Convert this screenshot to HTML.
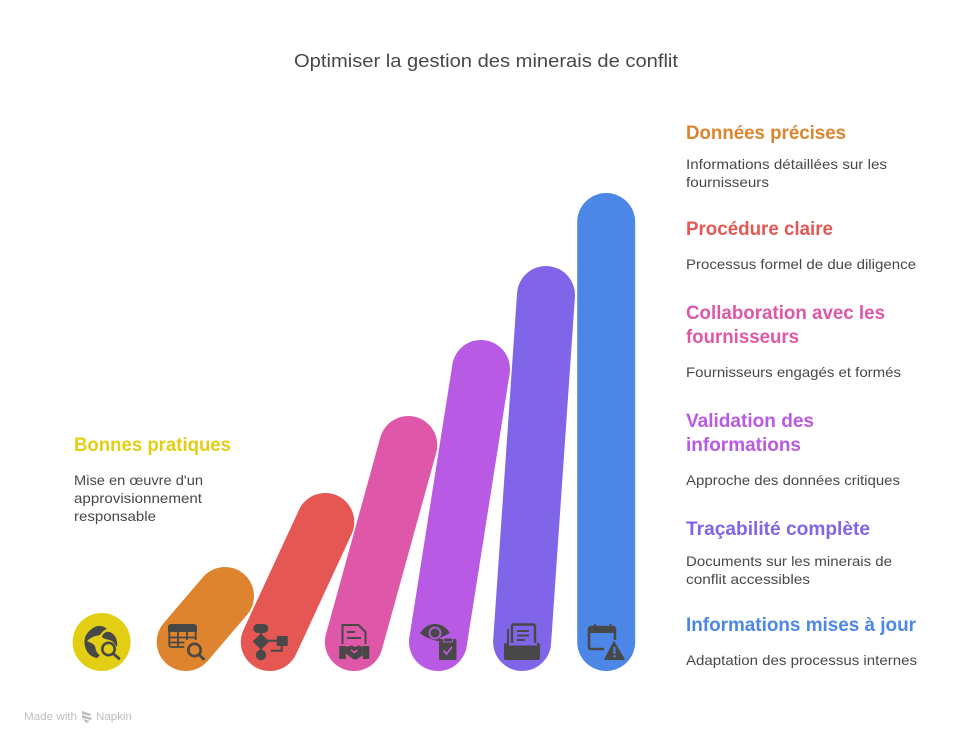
<!DOCTYPE html>
<html lang="fr">
<head>
<meta charset="utf-8">
<title>Optimiser la gestion des minerais de conflit</title>
<style>
html,body{margin:0;padding:0;background:#fff;width:972px;height:744px;overflow:hidden}
svg{display:block}
text{font-family:"Liberation Sans",sans-serif;fill:#484848}
.h{font-size:19px;font-weight:700}
.b{font-size:14px}
</style>
</head>
<body>
<svg id="chart" width="972" height="744" viewBox="0 0 972 744" xmlns="http://www.w3.org/2000/svg">
<text x="294" y="67" font-size="18.5" textLength="384" lengthAdjust="spacingAndGlyphs">Optimiser la gestion des minerais de conflit</text>
<g id="bars"></g>
<g>
<text class="h" x="74" y="451" textLength="157" lengthAdjust="spacingAndGlyphs" style="fill:#E2CF14">Bonnes pratiques</text>
<text class="b" x="74" y="485" textLength="129" lengthAdjust="spacingAndGlyphs">Mise en œuvre d'un</text>
<text class="b" x="74" y="503" textLength="128" lengthAdjust="spacingAndGlyphs">approvisionnement</text>
<text class="b" x="74" y="521" textLength="82" lengthAdjust="spacingAndGlyphs">responsable</text>

<text class="h" x="686" y="139" textLength="160" lengthAdjust="spacingAndGlyphs" style="fill:#DE832E">Données précises</text>
<text class="b" x="686" y="169" textLength="201" lengthAdjust="spacingAndGlyphs">Informations détaillées sur les</text>
<text class="b" x="686" y="187" textLength="83" lengthAdjust="spacingAndGlyphs">fournisseurs</text>

<text class="h" x="686" y="235" textLength="147" lengthAdjust="spacingAndGlyphs" style="fill:#E55753">Procédure claire</text>
<text class="b" x="686" y="269" textLength="230" lengthAdjust="spacingAndGlyphs">Processus formel de due diligence</text>

<text class="h" x="686" y="319" textLength="199" lengthAdjust="spacingAndGlyphs" style="fill:#DE57A9">Collaboration avec les</text>
<text class="h" x="686" y="343" textLength="113" lengthAdjust="spacingAndGlyphs" style="fill:#DE57A9">fournisseurs</text>
<text class="b" x="686" y="377" textLength="215" lengthAdjust="spacingAndGlyphs">Fournisseurs engagés et formés</text>

<text class="h" x="686" y="427" textLength="128" lengthAdjust="spacingAndGlyphs" style="fill:#B95AE4">Validation des</text>
<text class="h" x="686" y="451" textLength="115" lengthAdjust="spacingAndGlyphs" style="fill:#B95AE4">informations</text>
<text class="b" x="686" y="485" textLength="214" lengthAdjust="spacingAndGlyphs">Approche des données critiques</text>

<text class="h" x="686" y="535" textLength="184" lengthAdjust="spacingAndGlyphs" style="fill:#8065E9">Traçabilité complète</text>
<text class="b" x="686" y="566" textLength="206" lengthAdjust="spacingAndGlyphs">Documents sur les minerais de</text>
<text class="b" x="686" y="584" textLength="124" lengthAdjust="spacingAndGlyphs">conflit accessibles</text>

<text class="h" x="686" y="631" textLength="230" lengthAdjust="spacingAndGlyphs" style="fill:#4C87E8">Informations mises à jour</text>
<text class="b" x="686" y="665" textLength="231" lengthAdjust="spacingAndGlyphs">Adaptation des processus internes</text>
</g>

<g fill="#484848" stroke="none">
<g>
<path d="M107 629C103 625 97 625 93 628C87 632 84 637 84.500 643C85 651 90 657 97 658L100 655.500C97 653 96 651 95.500 648C95 644 91 643 87 641C90 638 94 636 100 635C102 632 104 630 107 629Z"/>
<path d="M106 632C110 631 114 634 116 638C117 641 117.500 644 117 647L113 642C110 639 105 640 102 637C102 635 104 633 106 632Z"/>
<circle cx="108.500" cy="649" r="6.200" fill="#E2CF14" stroke="#484848" stroke-width="2.600"/>
<path d="M113 653.500l6 5" stroke="#484848" stroke-width="2.800" stroke-linecap="round"/>
</g>
<g>
<path d="M171 624h23a3 3 0 0 1 3 3v5h-29v-5a3 3 0 0 1 3-3z"/>
<path d="M169.300 631v14a2 2 0 0 0 2 2h13M195.700 631v9M168.500 637.500h28M168.500 642.500h16M178 631v16M187 631v9" fill="none" stroke="#484848" stroke-width="1.800"/>
<circle cx="194.500" cy="650" r="6.200" fill="#DE832E" stroke="#484848" stroke-width="2.600"/>
<path d="M199 654.500l4.500 4.500" stroke="#484848" stroke-width="2.800" stroke-linecap="round"/>
</g>
<g>
<rect x="253.300" y="624" width="15" height="9" rx="4.500"/>
<path d="M261 632v20" stroke="#484848" stroke-width="2"/>
<path d="M261 633.500l8.500 8-8.500 8-8.500-8z"/>
<circle cx="261" cy="655" r="5.200"/>
<path d="M268 640.700h10" stroke="#484848" stroke-width="2"/>
<rect x="276.700" y="636" width="11" height="10" rx="1"/>
<path d="M281.700 645v5.700h-11" fill="none" stroke="#484848" stroke-width="2"/>
</g>
<g>
<path d="M342.500 644v-19h16l7 7v12" fill="none" stroke="#484848" stroke-width="2"/>
<path d="M347 631h8v2h-8zM347 637h14v2h-14z"/>
<rect x="339.300" y="646" width="6.500" height="13"/>
<rect x="362.800" y="646" width="6.500" height="13"/>
<path d="M345.800 647l6-1.500 3 1.500 4-1.500 4 1.500v8l-6 4.500h-3l-8-6z"/>
<path d="M351 650l3.500 2.500 3-2.500" fill="none" stroke="#DE57A9" stroke-width="1.500"/>
</g>
<g>
<path d="M420 633c4-6 9-9 15-9s11 3 15 9l-10 5v3c-4 0-7-1-10-2.500-4-1-7-3-10-5.500z"/>
<circle cx="435" cy="633" r="5.500" fill="#484848" stroke="#B95AE4" stroke-width="1.800"/>
<rect x="439" y="639" width="17.500" height="21" rx="1.500" stroke="#B95AE4" stroke-width="0"/>
<rect x="443.500" y="638" width="9" height="4" rx="1" fill="#484848" stroke="#B95AE4" stroke-width="1"/>
<path d="M443.500 650.500l3 3.500 5.500-7" fill="none" stroke="#B95AE4" stroke-width="1.800"/>
</g>
<g>
<path d="M512 643v-17a1.500 1.500 0 0 1 1.500-1.500h20a1.500 1.500 0 0 1 1.500 1.500v17" fill="none" stroke="#484848" stroke-width="2.400"/>
<path d="M517 630h12v2h-12zM517 634.500h12v2h-12zM517 639h8v2h-8z"/>
<path d="M508 629v14" fill="none" stroke="#484848" stroke-width="2"/>
<path d="M506 643h3v2.500h28v-2.500h1a2 2 0 0 1 2 2v13a2 2 0 0 1-2 2h-32a2 2 0 0 1-2-2v-13a2 2 0 0 1 2-2z"/>
</g>
<g>
<path d="M604 649h-13a2 2 0 0 1-2-2v-18a2 2 0 0 1 2-2h22a2 2 0 0 1 2 2v11" fill="none" stroke="#484848" stroke-width="2.600"/>
<rect x="589" y="627" width="26" height="6"/>
<path d="M595 624v5M610.500 624v5" stroke="#484848" stroke-width="2"/>
<path d="M614.500 641.500l10 17a1 1 0 0 1-1 1.500h-18a1 1 0 0 1-1-1.500l9-17a.6.6 0 0 1 1 0z"/>
<rect x="613.500" y="647" width="2" height="7" fill="#4C87E8"/>
<rect x="613.500" y="655.300" width="2" height="2" fill="#4C87E8"/>
</g>
</g>

<g>
<text x="24" y="720" font-size="11" textLength="53" lengthAdjust="spacingAndGlyphs" style="fill:#BDBDBD">Made with</text>
<path d="M82 711l9 3-1 2-8-2zM82 715l10 3-1 2-9-2zM83 719l7 2-4 2z" fill="#BDBDBD"/>
<text x="96" y="720" font-size="11" textLength="36" lengthAdjust="spacingAndGlyphs" style="fill:#BDBDBD">Napkin</text>
</g>
</svg>
<script>
const categories = ["Bonnes pratiques", "Données précises", "Procédure claire", "Collaboration avec les fournisseurs", "Validation des informations", "Traçabilité complète", "Informations mises à jour"];
const barValues = [0, 46, 120, 197, 273, 347, 420];
const barLean = [0, 39.3, 55.5, 54.4, 43, 23.9, 0];
const barColors = ["#E2CF14", "#DE832E", "#E55753", "#DE57A9", "#B95AE4", "#8065E9", "#4C87E8"];

function xScale(i) { return 101.6 + 84.1 * i; }
function yScale(v) { return 642 - v; }

const barsGroup = document.getElementById('bars');
categories.forEach(function (name, i) {
  const el = document.createElementNS('http://www.w3.org/2000/svg', 'line');
  
  
  el.setAttribute('x1', xScale(i));
  el.setAttribute('y1', yScale(0));
  el.setAttribute('x2', xScale(i) + barLean[i]);
  el.setAttribute('y2', yScale(barValues[i]));
  el.setAttribute('stroke', barColors[i]);
  el.setAttribute('stroke-width', 58);
  el.setAttribute('stroke-linecap', 'round');
  barsGroup.appendChild(el);
});
</script>
</body>
</html>
